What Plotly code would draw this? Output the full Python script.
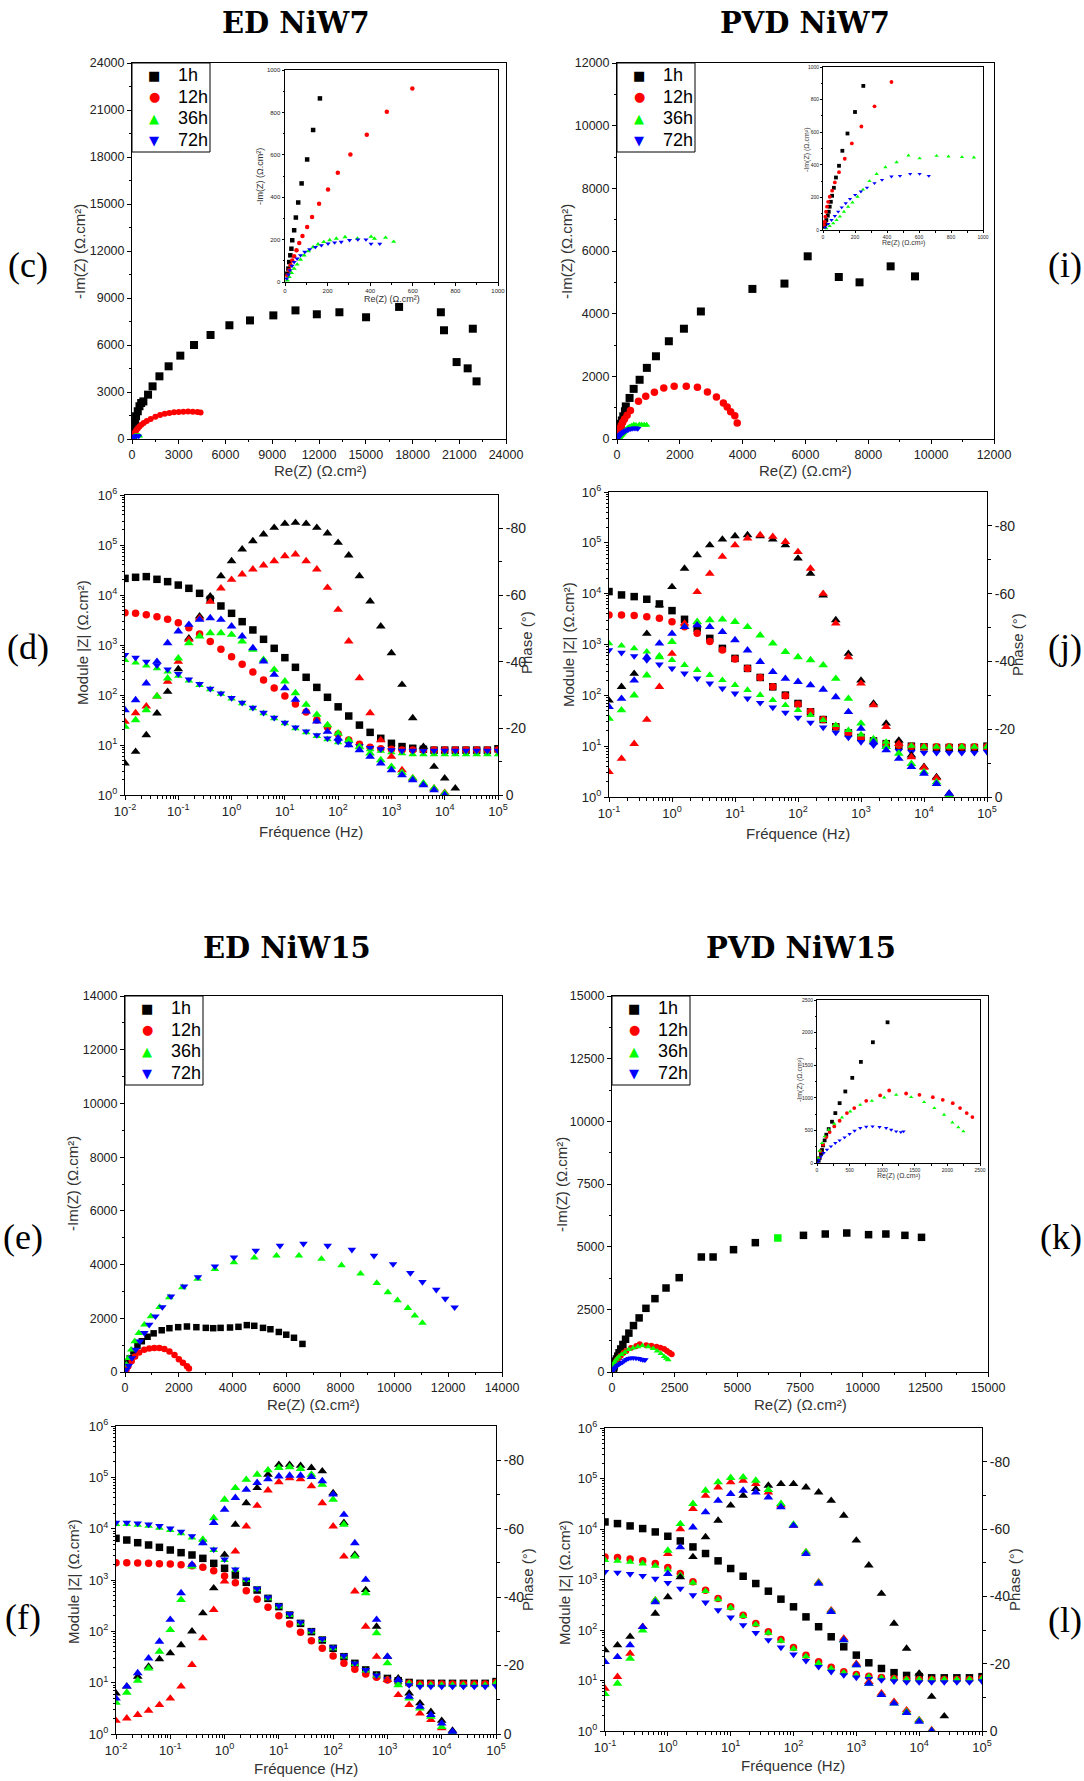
import plotly.graph_objects as go

W, H = 1084, 1781


def fx(p):
    return p / W


def fy(p):
    return 1 - p / H


SERIES = ["1h", "12h", "36h", "72h"]
COLORS = ["#000000", "#ff0000", "#00ff00", "#0000ff"]
MOD_SYMBOLS = ["square", "circle", "triangle-up", "triangle-down"]
LEGEND_GLYPHS = ["■", "●", "▲", "▼"]

# ---------------- Nyquist data (Re, -Im in ohm.cm2) ----------------
# (c) ED NiW7
c_1h_re = [11, 16, 20, 25, 30, 34, 43, 51, 62, 78, 104, 132, 164, 200, 260, 370, 480, 590, 730, 1030,
           1320, 1760, 2350, 3100, 3980, 5040, 6250, 7570, 9070, 10490, 11860, 13310, 15020, 17140,
           19820, 20020, 21870, 20830, 21540, 22110]
c_1h_im = [39, 63, 94, 126, 157, 197, 244, 304, 375, 465, 578, 717, 866, 1050, 1450, 1770, 2090, 2300, 2400,
           2830, 3360, 4000, 4640, 5320, 6000, 6640, 7260, 7570, 7890, 8210, 7960, 8090, 7770, 8430,
           8090, 6940, 7040, 4910, 4510, 3680]
c_12h_re = [11, 19, 26, 34, 43, 54, 67, 82, 104, 127, 160, 202, 248, 307, 384, 478, 598, 750, 950, 1200,
            1500, 1800, 2100, 2400, 2700, 3000, 3300, 3600, 3900, 4200, 4400]
c_12h_im = [31, 55, 79, 102, 121, 150, 184, 217, 260, 307, 369, 436, 515, 602, 694, 803, 913, 1020, 1150,
            1280, 1420, 1530, 1610, 1660, 1700, 1720, 1740, 1750, 1740, 1720, 1690]
c_36h_re = [11, 20, 31, 43, 57, 73, 90, 110, 132, 155, 182, 210, 241, 282, 340, 404, 420, 472, 510]
c_36h_im = [8, 24, 43, 63, 83, 106, 126, 146, 165, 178, 189, 198, 205, 212, 205, 214, 205, 209, 190]
c_72h_re = [8, 16, 23, 33, 43, 57, 73, 93, 116, 143, 171, 202, 233, 264, 303, 342, 380, 404, 445]
c_72h_im = [16, 35, 55, 76, 94, 110, 126, 142, 154, 165, 173, 181, 186, 189, 197, 200, 200, 180, 180]

# (i) PVD NiW7
i_1h_re = [8, 15, 21, 30, 36, 42, 49, 57, 68, 81, 100, 121, 153, 200, 252, 280, 400, 530, 720, 950, 1240,
           1650, 2130, 2670, 4310, 5330, 6070, 7060, 7720, 8710, 9485]
i_1h_im = [20, 37, 61, 88, 112, 143, 173, 210, 259, 322, 394, 486, 592, 724, 884, 1040, 1310, 1600, 1890,
           2270, 2640, 3120, 3520, 4070, 4790, 4960, 5830, 5170, 5000, 5510, 5190]
i_12h_re = [6, 11, 15, 19, 25, 32, 42, 57, 74, 100, 136, 180, 240, 322, 428, 684, 915, 1191, 1489, 1820,
            2205, 2559, 2879, 3165, 3386, 3507, 3618, 3750, 3827]
i_12h_im = [31, 51, 82, 112, 143, 173, 204, 241, 292, 355, 437, 531, 635, 759, 908, 1202, 1362, 1489, 1628,
            1681, 1681, 1649, 1500, 1340, 1149, 1021, 872, 745, 510]
i_36h_re = [21, 42, 64, 85, 106, 131, 157, 184, 216, 250, 290, 335, 390, 460, 534, 604, 710, 784, 869, 943]
i_36h_im = [10, 24, 41, 61, 82, 112, 143, 169, 204, 248, 300, 344, 385, 416, 457, 440, 455, 451, 447, 445]
i_72h_re = [15, 32, 53, 74, 95, 117, 142, 169, 201, 237, 275, 322, 369, 428, 481, 545, 604, 661]
i_72h_im = [16, 37, 61, 86, 113, 139, 164, 191, 215, 236, 260, 287, 307, 328, 332, 344, 344, 332]

# (e) ED NiW15
e_1h_re = [25, 88, 175, 313, 463, 625, 838, 1063, 1363, 1650, 1975, 2300, 2650, 3000, 3275, 3550, 3900,
           4213, 4525, 4800, 5125, 5400, 5713, 5988, 6275, 6590]
e_1h_im = [127, 318, 510, 764, 981, 1146, 1312, 1439, 1554, 1631, 1669, 1694, 1669, 1643, 1631, 1643, 1656,
           1682, 1745, 1720, 1643, 1592, 1490, 1389, 1274, 1045]
e_12h_re = [50, 125, 250, 375, 525, 713, 900, 1088, 1275, 1463, 1650, 1838, 2000, 2150, 2300, 2375]
e_12h_im = [64, 217, 408, 573, 726, 828, 879, 892, 892, 854, 764, 637, 471, 344, 217, 127]
e_36h_re = [51, 128, 231, 360, 514, 719, 963, 1284, 1644, 2132, 2697, 3339, 4046, 4804, 5626, 6460, 7295,
            8040, 8746, 9350, 9761, 10120, 10506, 10763, 11045]
e_36h_im = [273, 521, 832, 1142, 1452, 1762, 2073, 2420, 2780, 3153, 3463, 3835, 4083, 4257, 4332, 4332,
            4208, 3972, 3661, 3314, 2966, 2669, 2383, 2098, 1825]
e_72h_re = [51, 141, 257, 398, 552, 719, 899, 1130, 1387, 1708, 2196, 2710, 3339, 4046, 4855, 5754, 6627,
            7526, 8425, 9247, 9954, 10596, 11045, 11559, 11893, 12240]
e_72h_im = [87, 236, 521, 832, 1142, 1452, 1762, 2073, 2420, 2817, 3190, 3537, 3935, 4270, 4518, 4704, 4779,
            4704, 4555, 4332, 4021, 3686, 3351, 3066, 2731, 2408]

# (k) PVD NiW15
k_1h_re = [26, 41, 61, 77, 92, 117, 143, 179, 230, 281, 347, 434, 541, 673, 857, 1082, 1354, 1713, 2155,
           2680, 3564, 4033, 4848, 5718, 6616, 7638, 8508, 9365, 10235, 10925, 11685, 12348]
k_1h_im = [36, 77, 138, 199, 270, 347, 434, 520, 633, 765, 918, 1097, 1306, 1551, 1852, 2158, 2540, 2926,
           3351, 3763, 4588, 4588, 4880, 5160, 5346, 5452, 5505, 5545, 5479, 5505, 5452, 5372]
k_12h_re = [26, 51, 92, 143, 194, 265, 347, 459, 571, 755, 969, 1107, 1367, 1571, 1776, 1929, 2082, 2194,
            2296, 2383]
k_12h_im = [77, 179, 281, 398, 474, 561, 648, 765, 842, 954, 1036, 1112, 1066, 1046, 1010, 969, 918, 842,
            765, 704]
k_36h_re = [20, 41, 77, 117, 179, 265, 383, 510, 663, 842, 1031, 1214, 1444, 1643, 1801, 1949, 2077, 2168,
            2245]
k_36h_im = [77, 189, 306, 408, 510, 602, 699, 791, 893, 954, 1005, 1046, 1010, 934, 842, 740, 622, 546, 485]
k_72h_re = [10, 31, 61, 102, 153, 214, 281, 347, 423, 500, 577, 663, 755, 852, 959, 1061, 1138, 1214, 1286,
            1327]
k_72h_im = [10, 51, 102, 153, 204, 255, 306, 347, 393, 444, 495, 536, 556, 561, 551, 536, 510, 485, 474, 485]
K_ODD_POINT = 24  # one 1h point drawn in green in the original

# ---------------- Bode data ----------------
F_ED = [0.01, 0.0158, 0.0251, 0.0398, 0.0631, 0.1, 0.158, 0.251, 0.398, 0.631, 1, 1.58, 2.51, 3.98, 6.31,
        10, 15.8, 25.1, 39.8, 63.1, 100, 158, 251, 398, 631, 1000, 1580, 2510, 3980, 6310, 10000, 15800,
        25100, 39800, 63100, 100000]
F_PVD = [0.1, 0.158, 0.251, 0.398, 0.631, 1, 1.58, 2.51, 3.98, 6.31, 10, 15.8, 25.1, 39.8, 63.1, 100, 158,
         251, 398, 631, 1000, 1580, 2510, 3980, 6310, 10000, 15800, 25100, 39800, 63100, 100000]
N4 = [None] * 4
N5 = [None] * 5
N3 = [None] * 3

# (d) ED NiW7
d_mod_1h = [21500, 22600, 23300, 20600, 18500, 15800, 13600, 10800, 8190, 6030, 4300, 2930, 2000, 1300,
            858, 558, 358, 226, 142, 90, 58, 38, 25, 17.9, 13.6, 10.8, 9.3, 8.6, 8.2, 7.9, 7.9, 7.9, 7.9,
            7.9, 7.9, 8.4]
d_mod_12h = [4430, 4300, 4040, 3690, 3260, 2800, 2220, 1660, 1170, 820, 585, 410, 288, 200, 138, 95.5, 66,
             45.7, 31.6, 22.6, 16.6, 12.6, 10.3, 9.0, 8.4, 8.2, 7.9, 7.9, 7.9, 7.9, 7.9, 7.9, 7.9, 7.9,
             7.9, 7.9]
d_mod_36h = [501, 443, 386, 341, 293, 240, 193, 158, 130, 105, 84.5, 68.1, 54.1, 43, 34.1, 27.1, 21.5,
             17.9, 15.1, 13, 11.3, 10, 9.0, 8.2, 7.6, 7.1, 6.8, 6.5, 6.5, 6.5, 6.5, 6.5, 6.5, 6.5, 6.5, 6.5]
d_mod_72h = [631, 558, 464, 392, 326, 263, 206, 166, 134, 108, 87.1, 70.3, 55.8, 44.4, 35.2, 28, 22.6,
             18.8, 15.8, 13.6, 11.8, 10.5, 9.5, 8.8, 8.3, 7.9, 7.7, 7.7, 7.7, 7.7, 7.7, 7.7, 7.7, 7.7, 7.7,
             7.7]
d_ph_1h = [-9.5, -13, -18, -24.5, -31, -37.8, -47, -53.6, -59.6, -65.7, -70.2, -73.7, -76.2, -78.2, -80.2,
           -81.4, -81.7, -81.4, -80.2, -78.5, -75.7, -71.9, -65.7, -58.1, -50.6, -42.6, -33.1, -23.1,
           -14.5, -8.5, -5, -2] + N4
d_ph_12h = [-22, -24.6, -26.6, -29.6, -34, -40, -46.6, -53, -58, -62, -64.6, -66.2, -67.7, -68.9, -70.2,
            -71.7, -72.2, -70.2, -67.7, -62.2, -55.6, -46.1, -35.1, -24.6, -16.5, -11.5, -7.5, -5, -3.3,
            -2, -0.7] + N5
d_ph_36h = [-20.5, -22.5, -25.5, -29.6, -35, -41, -45.6, -47.6, -48.6, -48.6, -48.1, -46.1, -43.6, -40.6,
            -37.6, -34.1, -30.6, -27.1, -24.1, -21, -18.5, -16.5, -14.5, -12.5, -10.5, -8.5, -6.7, -5,
            -3.5, -2, -0.5] + N5
d_ph_72h = [-25.5, -28.5, -33.5, -40, -45.6, -49.1, -51.1, -52.6, -53.1, -52.6, -50.6, -47.6, -44.1,
            -40.1, -36.1, -32.1, -28.6, -25.1, -22.1, -19, -17, -15, -13.5, -11.5, -9.5, -7.5, -6, -4.5,
            -3, -1.5, 0] + N5

# (j) PVD NiW7
j_mod_1h = [11000, 9440, 8750, 7760, 6280, 4640, 3130, 2080, 1320, 839, 533, 339, 225, 147, 101, 69.2,
            47.3, 33.4, 24, 18.2, 14.8, 12.7, 11.2, 10.4, 10.0, 9.7, 9.4, 9.4, 9.4, 9.4, 10.0]
j_mod_12h = [3810, 3810, 3700, 3530, 3270, 2810, 2240, 1660, 1140, 778, 517, 339, 225, 147, 97.9, 67.1,
             47.3, 33.4, 24, 18.2, 14.8, 12.7, 11.2, 10.4, 10.0, 9.7, 9.7, 9.7, 9.7, 9.7, 9.7]
j_mod_36h = [1050, 946, 839, 721, 601, 494, 394, 314, 250, 199, 159, 127, 101, 80.3, 64.1, 51.1, 40.7,
             32.4, 25.9, 20.6, 16.9, 14.1, 12.1, 10.9, 10.1, 9.7, 9.7, 9.7, 9.7, 9.7, 9.7]
j_mod_72h = [778, 689, 593, 494, 406, 339, 270, 215, 171, 137, 109, 86.8, 71.3, 57.7, 45.9, 36.6, 29.2,
             23.3, 18.5, 14.8, 12.1, 10.4, 9.0, 8.1, 7.7, 7.4, 7.4, 7.4, 7.4, 7.4, 7.7]
j_ph_1h = [-28.5, -32.5, -36.4, -48.2, -56.6, -62, -67.4, -71.4, -74.3, -76, -77, -77.3, -77, -76, -74.3,
           -70.4, -65.9, -59.5, -52.2, -42.3, -34.4, -27.6, -21.7, -16.7, -12.3, -8.9, -5.9, -1] + N3
j_ph_12h = [-7.4, -11.3, -15.7, -22.8, -32.5, -42.3, -51.2, -60.5, -65.9, -70.9, -74.3, -76.3, -77.3,
            -76.8, -75.3, -72.3, -67.4, -60, -51.2, -41.3, -33.5, -27.1, -20.7, -15.7, -11.8, -8.7, -5.6,
            -0.8] + N3
j_ph_36h = [-23.1, -25.6, -30, -35.9, -41.3, -45.8, -50.2, -51.7, -52.2, -52.4, -51.7, -50.2, -47.7,
            -45.3, -42.8, -41.3, -40.4, -38.9, -34.9, -29, -21.7, -16.7, -14.8, -12.8, -9.8, -7.4, -4.4,
            -0.5] + N3
j_ph_72h = [-26.6, -29, -34.4, -41.3, -45.3, -48.2, -50.2, -50.7, -50.2, -48.7, -46.3, -43.3, -39.9,
            -36.9, -34.9, -34, -33, -31.7, -29.5, -25.1, -20.2, -16.2, -13.8, -11.3, -8.9, -6.9, -3.9,
            -1] + N3

# (f) ED NiW15
f_mod_1h = [6480, 6010, 5330, 4810, 4330, 3840, 3410, 3070, 2640, 2110, 1690, 1250, 901, 638, 439, 303,
            208, 143, 98.6, 67.8, 46.7, 32.1, 23.8, 17.7, 14.1, 12.1, 10.9, 10.1, 9.7, 9.7, 9.7, 9.7, 9.7,
            9.7, 9.7, 10.5]
f_mod_12h = [2180, 2180, 2140, 2110, 2080, 2050, 1990, 1900, 1770, 1520, 1200, 887, 620, 420, 294, 202,
             139, 95.6, 65.8, 46.7, 33.1, 23.8, 18.2, 14.8, 12.7, 11.3, 10.5, 9.7, 9.4, 9.4, 9.4, 9.4,
             9.4, 9.4, 9.4, 10.1]
f_mod_36h = [12300, 12300, 11800, 11300, 10400, 9420, 8110, 6680, 5330, 3840, 2450, 1570, 1000, 658, 439,
             303, 208, 143, 98.6, 67.8, 46.7, 32.1, 23.1, 17.1, 13.7, 11.6, 10.5, 9.7, 9.0, 9.0, 9.0,
             9.0, 9.0, 9.0, 9.0, 10.0]
f_mod_72h = [13100, 13100, 12700, 12100, 11300, 10100, 8750, 7190, 5580, 3960, 2530, 1610, 1030, 678,
             459, 316, 218, 150, 103, 71, 48.8, 33.6, 23.8, 17.7, 13.9, 11.6, 10.0, 9.0, 8.4, 8.4, 8.4,
             8.4, 8.4, 8.4, 8.4, 8.6]
f_ph_1h = [-11.9, -13.9, -16.8, -19.7, -21.9, -23.6, -26, -30, -35.3, -42.6, -52.4, -61.2, -67.5, -71.9,
           -75.8, -78.7, -78.7, -78.4, -77.8, -76.8, -70.4, -61.7, -52.4, -42.1, -31.4, -22.6, -16.3,
           -11.9, -9, -6.5, -3.9, -1] + N4
f_ph_12h = [-3.9, -4.6, -5.6, -6.8, -8.5, -10.4, -13.9, -20.2, -28, -36.3, -44.6, -53.4, -60.7, -66.7,
            -71.2, -73.6, -74.8, -74.5, -72.4, -67.5, -60.7, -51.9, -41.7, -31.4, -22.6, -15.8, -11.4,
            -8.5, -6, -4.1, -1.7, 0] + N4
f_ph_36h = [-9.2, -12.1, -15.6, -19.2, -24.1, -30.4, -39.2, -49, -56.8, -63.1, -68.5, -71.9, -74.3,
            -75.8, -77.1, -77.8, -78, -77.5, -75.8, -72.9, -68.5, -61.2, -51.9, -41.2, -29.5, -20.7,
            -14.3, -10.4, -7.5, -5.1, -2.1, -0.2] + N4
f_ph_72h = [-10.4, -13.9, -17.8, -22.1, -27, -33.4, -41.2, -49.5, -55.8, -61.7, -65.6, -69, -71.4, -73.4,
            -74.5, -75.3, -75.5, -75.5, -75.1, -73.9, -70, -64.1, -55.8, -45.1, -33.4, -22.6, -15.8,
            -10.9, -8, -5.6, -3.1, -0.7] + N4

# (l) PVD NiW15
l_mod_1h = [13800, 12800, 11500, 10200, 8750, 7180, 5800, 4420, 3270, 2340, 1650, 1160, 832, 587, 408,
            288, 182, 116, 73.4, 46.5, 31.8, 22.4, 17.3, 14.3, 12.6, 11.9, 11.3, 11.3, 11.3, 11.3, 11.9]
l_mod_12h = [2800, 2720, 2560, 2340, 2070, 1730, 1310, 898, 614, 421, 288, 197, 135, 92.1, 65, 45.2, 31.8,
             23.5, 18.2, 14.9, 13.2, 12.2, 11.5, 11.0, 10.5, 10.5, 10.5, 10.5, 10.5, 10.5, 11.0]
l_mod_36h = [2410, 2340, 2230, 2070, 1860, 1570, 1220, 858, 587, 402, 275, 188, 129, 88.1, 61.1, 42.5, 30,
             22.1, 17.1, 14.3, 12.6, 11.9, 11.2, 10.8, 10.5, 10.5, 10.5, 10.5, 10.5, 10.5, 10.8]
l_mod_72h = [1420, 1370, 1290, 1180, 1040, 858, 662, 489, 351, 247, 177, 125, 88.1, 63.1, 45.2, 32.8, 24.6,
             18.7, 14.9, 12.8, 11.5, 10.8, 10.2, 9.7, 9.3, 9.3, 9.3, 9.3, 9.3, 9.3, 9.7]
l_ph_1h = [-24, -25.5, -28, -30.9, -34.9, -39.8, -45.7, -51.7, -57.6, -62.5, -67, -69.9, -71.9, -72.9,
           -73.4, -73.4, -72.4, -70.9, -68.4, -64, -56.6, -49.2, -40.8, -31.9, -24.5, -17.1, -10.2,
           -4.4] + N3
l_ph_12h = [-12.6, -16.1, -23, -30.9, -38.8, -52.6, -60, -66, -69.9, -72.4, -73.9, -74.4, -73.4, -70.9,
            -67, -61, -53.1, -44.2, -35.9, -27.5, -20, -14.6, -11.2, -8.7, -6.2, -3.3, -0.3] + N4
l_ph_36h = [-11, -14.1, -21.5, -29.9, -38.8, -53.6, -61.5, -67.5, -71.4, -73.9, -75.2, -75.4, -74.4,
            -71.6, -67.5, -61.3, -53.1, -44, -35.6, -27, -19.6, -14.1, -10.7, -8.2, -5.7, -3.1, -0.1] + N4
l_ph_72h = [-20.5, -22, -25.5, -30.9, -38.3, -46.7, -54.6, -60.5, -65, -68.4, -70.4, -71.4, -70.9, -69.4,
            -66.5, -61, -52.6, -43.8, -35.4, -27, -19.6, -14.1, -10.7, -8.2, -5.4, -2.8, 0] + N4

# ---------------- figure ----------------
SANS = "Liberation Sans, Arial, sans-serif"
SERIF = "Liberation Serif, Times New Roman, serif"
TITLE_SERIF = "DejaVu Serif, serif"
GLYPH_FONT = "DejaVu Sans, sans-serif"

fig = go.Figure()
layout = {}
annotations = []
shapes = []


def axname(letter, n):
    return f"{letter}axis" + ("" if n == 1 else str(n))


def axref(letter, n):
    return letter + ("" if n == 1 else str(n))


def lin_axes(xn, yn, box, rmax, dtick, tsize, tlen=4):
    x0, x1, y0, y1 = box
    common = dict(showline=True, linecolor="black", linewidth=1, mirror=True, ticks="outside",
                  ticklen=tlen, tickwidth=1, tickcolor="black", showgrid=False, zeroline=False,
                  tickformat="d",
                  tickfont=dict(family=SANS, size=tsize, color="#222"),
                  range=[0, rmax], tickmode="linear", tick0=0, dtick=dtick,
                  minor=dict(ticks="outside", ticklen=max(1.5, tlen * 0.6), tickcolor="black",
                             tick0=0, dtick=dtick / 2, showgrid=False))
    layout[axname("x", xn)] = dict(common, domain=[fx(x0), fx(x1)], anchor=axref("y", yn))
    layout[axname("y", yn)] = dict(common, domain=[fy(y1), fy(y0)], anchor=axref("x", xn))


def nyq_traces(xn, yn, data, sizes, colors=None):
    for i, (re, im) in enumerate(data):
        col = COLORS[i] if colors is None or colors[i] is None else colors[i]
        fig.add_trace(go.Scatter(
            x=re, y=im, mode="markers", name=SERIES[i], showlegend=False,
            xaxis=axref("x", xn), yaxis=axref("y", yn),
            marker=dict(symbol=MOD_SYMBOLS[i], color=col, size=sizes[i], line=dict(width=0))))


def ann(text, x, y, size, family=SANS, color="#333", angle=0, xanchor="center"):
    annotations.append(dict(text=text, x=fx(x), y=fy(y), xref="paper", yref="paper", showarrow=False,
                            font=dict(family=family, size=size, color=color), textangle=angle,
                            xanchor=xanchor, yanchor="middle", borderpad=0))


def box_legend(x0, y0, w=78, h=89):
    shapes.append(dict(type="rect", xref="paper", yref="paper", x0=fx(x0), x1=fx(x0 + w),
                       y0=fy(y0 + h), y1=fy(y0), line=dict(color="black", width=1),
                       fillcolor="white", layer="above"))
    for i, name in enumerate(SERIES):
        yc = y0 + 12 + 21.7 * i
        ann(LEGEND_GLYPHS[i], x0 + 22, yc, 13, family=GLYPH_FONT, color=COLORS[i])
        ann(name, x0 + 45, yc, 18, color="black", xanchor="left")


def bode_axes(xn, yn, ypn, box, e0, e1):
    x0, x1, y0, y1 = box
    base = dict(showline=True, linecolor="black", linewidth=1, ticks="outside", ticklen=4, tickwidth=1,
                tickcolor="black", showgrid=False, zeroline=False,
                tickfont=dict(family=SANS, size=13, color="#222"))
    layout[axname("x", xn)] = dict(
        base, type="log", domain=[fx(x0), fx(x1)], range=[e0, e1], anchor=axref("y", yn), mirror=True,
        tickmode="array", tickvals=[10.0 ** e for e in range(e0, e1 + 1)],
        ticktext=[f"10<sup>{e}</sup>" for e in range(e0, e1 + 1)],
        minor=dict(ticks="outside", ticklen=2.5, tickcolor="black", tickmode="array",
                   tickvals=[m * 10.0 ** e for e in range(e0, e1) for m in range(2, 10)]))
    layout[axname("y", yn)] = dict(
        base, type="log", domain=[fy(y1), fy(y0)], range=[0, 6], anchor=axref("x", xn), mirror=False,
        tickmode="array", tickvals=[10.0 ** e for e in range(0, 7)],
        ticktext=[f"10<sup>{e}</sup>" for e in range(0, 7)],
        minor=dict(ticks="outside", ticklen=2.5, tickcolor="black", tickmode="array",
                   tickvals=[m * 10.0 ** e for e in range(0, 6) for m in range(2, 10)]))
    layout[axname("y", ypn)] = dict(
        base, overlaying=axref("y", yn), side="right", anchor=axref("x", xn), range=[0, -90],
        tickmode="array", tickvals=[-80, -60, -40, -20, 0], ticktext=["-80", "-60", "-40", "-20", "0"],
        tickfont=dict(family=SANS, size=14, color="#222"),
        minor=dict(ticks="outside", ticklen=2.5, tickcolor="black", tickmode="array",
                   tickvals=[-70, -50, -30, -10]))


def bode_traces(xn, yn, ypn, freq, mods, phases):
    for i, m in enumerate(mods):
        fig.add_trace(go.Scatter(
            x=freq, y=m, mode="markers", name=SERIES[i], showlegend=False,
            xaxis=axref("x", xn), yaxis=axref("y", yn),
            marker=dict(symbol=MOD_SYMBOLS[i], color=COLORS[i], size=7.5, line=dict(width=0))))
    for i, p in enumerate(phases):
        fig.add_trace(go.Scatter(
            x=freq, y=p, mode="markers", name=SERIES[i], showlegend=False,
            xaxis=axref("x", xn), yaxis=axref("y", ypn),
            marker=dict(symbol="triangle-up", color=COLORS[i], size=8.5, line=dict(width=0))))


# --- Nyquist panels ---
c_data = [(c_1h_re, c_1h_im), (c_12h_re, c_12h_im), (c_36h_re, c_36h_im), (c_72h_re, c_72h_im)]
i_data = [(i_1h_re, i_1h_im), (i_12h_re, i_12h_im), (i_36h_re, i_36h_im), (i_72h_re, i_72h_im)]
e_data = [(e_1h_re, e_1h_im), (e_12h_re, e_12h_im), (e_36h_re, e_36h_im), (e_72h_re, e_72h_im)]
k_data = [(k_1h_re, k_1h_im), (k_12h_re, k_12h_im), (k_36h_re, k_36h_im), (k_72h_re, k_72h_im)]
k_1h_colors = ["#000000"] * len(k_1h_re)
k_1h_colors[K_ODD_POINT] = "#00ff00"

# (c)
lin_axes(1, 1, (132, 506, 63, 439), 24000, 3000, 12.5)
nyq_traces(1, 1, c_data, [8, 6, 5.5, 5.5])
box_legend(132, 63)
lin_axes(2, 2, (285, 498, 70, 282), 1000, 200, 6, tlen=2.5)
nyq_traces(2, 2, c_data, [4.5, 4.5, 4.5, 4.5])
# (i)
lin_axes(3, 3, (617, 994, 63, 439), 12000, 2000, 12.5)
nyq_traces(3, 3, i_data, [8, 7.5, 6.5, 6.5])
box_legend(617, 63)
lin_axes(4, 4, (823, 983, 67, 230), 1000, 200, 5, tlen=2)
nyq_traces(4, 4, i_data, [3.8, 3.8, 3.8, 3.8])
# (e)
lin_axes(5, 5, (125, 502, 996, 1372), 14000, 2000, 12.5)
nyq_traces(5, 5, e_data, [6.5, 6.5, 7.5, 7.5])
box_legend(125, 996)
# (k)
lin_axes(6, 6, (612, 988, 996, 1372), 15000, 2500, 12.5)
nyq_traces(6, 6, k_data, [7.5, 6, 6, 6], colors=[k_1h_colors, None, None, None])
box_legend(612, 996)
lin_axes(7, 7, (817, 980, 1000, 1163), 2500, 500, 5, tlen=2)
nyq_traces(7, 7, k_data, [3.8, 3.8, 3.8, 3.8], colors=[k_1h_colors, None, None, None])

# --- Bode panels ---
bode_axes(8, 8, 9, (125, 498, 495, 795), -2, 5)
bode_traces(8, 8, 9, F_ED, [d_mod_1h, d_mod_12h, d_mod_36h, d_mod_72h],
            [d_ph_1h, d_ph_12h, d_ph_36h, d_ph_72h])
bode_axes(9, 10, 11, (609, 987, 492, 797), -1, 5)
bode_traces(9, 10, 11, F_PVD, [j_mod_1h, j_mod_12h, j_mod_36h, j_mod_72h],
            [j_ph_1h, j_ph_12h, j_ph_36h, j_ph_72h])
bode_axes(10, 12, 13, (116, 496, 1426, 1734), -2, 5)
bode_traces(10, 12, 13, F_ED, [f_mod_1h, f_mod_12h, f_mod_36h, f_mod_72h],
            [f_ph_1h, f_ph_12h, f_ph_36h, f_ph_72h])
bode_axes(11, 14, 15, (605, 982, 1428, 1731), -1, 5)
bode_traces(11, 14, 15, F_PVD, [l_mod_1h, l_mod_12h, l_mod_36h, l_mod_72h],
            [l_ph_1h, l_ph_12h, l_ph_36h, l_ph_72h])

# --- text ---
for t, x, y in [("ED NiW7", 296, 23), ("PVD NiW7", 805, 23), ("ED NiW15", 287, 948), ("PVD NiW15", 801, 948)]:
    ann(f"<b>{t}</b>", x, y, 29, family=TITLE_SERIF, color="black")
for t, x, y in [("(c)", 28, 265), ("(d)", 28, 647), ("(e)", 23, 1237), ("(f)", 23, 1617)]:
    ann(t, x, y, 36, family=SERIF, color="black")
for t, y in [("(i)", 265), ("(j)", 647), ("(k)", 1237), ("(l)", 1620)]:
    ann(t, 1083, y, 36, family=SERIF, color="black", xanchor="right")

RE = "Re(Z) (Ω.cm²)"
IM = "-Im(Z) (Ω.cm²)"
for x, y in [(320, 470), (805, 470), (313, 1404), (800, 1404)]:
    ann(RE, x, y, 15)
for x, y in [(79, 252), (566, 252), (72, 1184), (561, 1185)]:
    ann(IM, x, y, 15, angle=-90)
for x, y in [(311, 831), (798, 833), (306, 1768), (793, 1765)]:
    ann("Fréquence (Hz)", x, y, 15)
for x, y in [(83, 643), (568, 645), (73, 1582), (564, 1582)]:
    ann("Module |Z| (Ω.cm²)", x, y, 15, angle=-90)
for x, y in [(527, 643), (1017, 645), (527, 1580), (1014, 1580)]:
    ann("Phase (°)", x, y, 15, angle=-90)
# inset titles
ann(RE, 392, 299, 9)
ann(IM, 260, 177, 9, angle=-90)
ann(RE, 903, 243, 7)
ann(IM, 807, 150, 7, angle=-90)
ann(RE, 898, 1176, 7)
ann(IM, 800, 1080, 7, angle=-90)

layout.update(dict(width=W, height=H, margin=dict(l=0, r=0, t=0, b=0), paper_bgcolor="white",
                   plot_bgcolor="white", template="none", hovermode=False, annotations=annotations,
                   shapes=shapes, showlegend=False))
fig.update_layout(**layout)
fig.write_html("out.html", config={"displayModeBar": False},
               post_script="document.body.style.margin='0px';document.body.style.padding='0px';")
